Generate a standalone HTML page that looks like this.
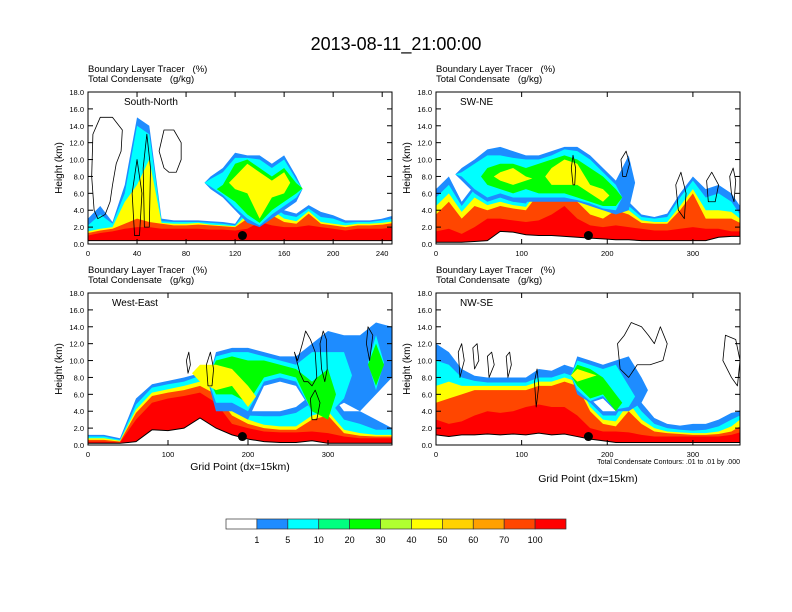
<!DOCTYPE html>
<html><head><meta charset="utf-8"><style>
body{margin:0;background:#fff;}
svg{display:block;font-family:"Liberation Sans",sans-serif;}
text{white-space:pre;}
</style></head><body>
<svg id="chart" width="792" height="612" viewBox="0 0 792 612">
<text x="396" y="50" text-anchor="middle" font-size="18">2013-08-11_21:00:00</text>
</svg>
<script>
// ---------- DATA ----------
const levelColors = ["#1e8cff","#00ffff","#00ff80","#00ff00","#b0ff30","#ffff00","#ffd200","#ffa000","#ff4600","#ff0000"];
const cbLabels = ["1","5","10","20","30","40","50","60","70","100"];
const yTicks = [0,2,4,6,8,10,12,14,16,18];
const N = null;

const p1X = [0,10,20,30,40,50,60,70,80,90,100,110,120,130,140,150,160,170,180,190,200,210,220,230,240,250];
const p1Terrain = [0.4,0.4,0.4,0.4,0.4,0.4,0.4,0.4,0.4,0.4,0.4,0.4,0.4,0.4,0.4,0.4,0.4,0.4,0.4,0.4,0.4,0.4,0.4,0.4,0.4,0.4];
const p1Red = [1.0,1.3,1.5,1.8,2.0,2.0,1.8,1.8,1.8,1.8,1.7,1.7,1.6,1.8,2.6,2.2,2.0,2.0,2.2,2.0,1.8,1.6,1.8,1.8,1.8,2.0];
const p1Orange = [1.3,1.6,1.8,2.4,3.0,2.6,2.4,2.2,2.2,2.3,2.2,2.1,2.0,3.0,5.5,3.4,2.6,2.4,3.6,2.4,2.2,2.0,2.2,2.2,2.3,2.5];
const p1Yellow = [1.5,1.8,2.0,5,7.0,10,2.5,2.4,2.4,2.5,2.3,2.2,2.1,3.5,6.5,4.0,3.0,2.7,3.9,2.6,2.4,2.2,2.4,2.4,2.5,2.7];
const p1Cyan = [2.2,3.5,2.4,6,14,13,2.7,2.6,2.6,2.6,2.5,2.4,2.2,4,7,4.5,3.5,3.2,4.2,3.2,3.0,2.5,2.6,2.6,2.8,3.0];
const p1Blue = [3.0,4.5,2.6,7,15,14,3,2.8,2.8,2.8,2.7,2.6,2.4,4.5,7.5,5,4,3.6,4.6,3.8,3.4,2.8,2.8,2.8,3.0,3.4];
const p1CloudBlueLo = [N,N,N,N,N,N,N,N,N,N,6.5,5.5,4,2.5,2,3,4,5,N,N,N,N,N,N,N,N];
const p1CloudBlueHi = [N,N,N,N,N,N,N,N,N,N,8,9,10.8,10.5,10.5,9.5,10.5,8,N,N,N,N,N,N,N,N];
const p1CloudCyanLo = [N,N,N,N,N,N,N,N,N,N,6.8,5.8,4.3,3,2.2,3.5,4.5,5.5,N,N,N,N,N,N,N,N];
const p1CloudCyanHi = [N,N,N,N,N,N,N,N,N,N,7.7,8.5,10.2,10.2,10,9,10,7.6,N,N,N,N,N,N,N,N];
const p1CloudGreenLo = [N,N,N,N,N,N,N,N,N,N,N,6,5,3.5,2.5,4,5,6,N,N,N,N,N,N,N,N];
const p1CloudGreenHi = [N,N,N,N,N,N,N,N,N,N,N,7,9.5,10,9,8,9,7.2,N,N,N,N,N,N,N,N];
const p1CloudYellowLo = [N,N,N,N,N,N,N,N,N,N,N,N,6.5,6,3,5.5,6,N,N,N,N,N,N,N,N,N];
const p1CloudYellowHi = [N,N,N,N,N,N,N,N,N,N,N,N,8,9.5,8.5,7.5,8.5,N,N,N,N,N,N,N,N,N];
const p1Contours = [
 [[5,4],[3,8],[4,13],[10,15],[20,15],[28,13.5],[27,11],[23,9.5],[20,7],[18,5],[14,3.5],[8,3]],
 [[62,9],[58,11],[62,13.5],[70,13.5],[76,12],[76,10],[72,8.5],[66,8.5]],
 [[38,1],[36,6],[40,10],[44,6],[42,1]],
 [[46,2],[45,9],[48,13],[51,9],[50,2]]
];

const p2X = [0,15,30,45,60,75,90,105,120,135,150,165,180,195,210,225,240,255,270,285,300,315,330,345,355];
const p2Terrain = [0.2,0.2,0.2,0.3,0.4,1.5,1.4,1.1,1.0,1.0,0.9,0.8,0.7,0.6,0.5,0.5,0.4,0.4,0.4,0.4,0.4,0.4,0.8,0.9,0.9];
const p2Red = [1.5,1.8,1.2,2.0,3.0,3.0,2.8,2.6,2.8,3.5,4.5,3,2.2,2.0,2.2,2.0,1.8,1.6,1.6,1.8,2.0,1.8,1.8,1.5,1.5];
const p2Orange = [3.5,5,3,4.5,4,4.5,4.2,4,6,9,9,5,3.5,3,4,3.5,2.5,2.4,2.4,4,6,3,3,3,2.5];
const p2Yellow = [4.5,6,3.8,5.5,4.6,5,4.6,4.4,6.5,9.5,9.5,6,4.5,4,5,4,2.8,2.6,2.6,4.5,6.5,4,4,3.8,3];
const p2Cyan = [5.5,7,4.5,6.5,5.2,5.5,5,4.8,7,10,10,7,5.5,5,6,4.5,3.2,3,3.2,5.5,7.5,5.5,6,5,3.5];
const p2Blue = [6.5,8,5,7,6,5.8,5.4,5.2,7.5,10.5,10.5,7.5,6,5.5,6.5,5,3.5,3.2,3.6,6,8,6.5,7,6,4.5];
const p2CloudBlueLo = [N,N,7.5,6,5,5.5,5,5,5,5,5,5,4.5,4,3.5,4,N,N,N,N,N,N,N,N,N];
const p2CloudBlueHi = [N,N,9,10,11.2,11.5,11,10.5,10.5,11,11.5,11.5,10.5,9,7.5,10.5,N,N,N,N,N,N,N,N,N];
const p2CloudCyanLo = [N,N,8,6.5,5.5,6,5.5,5.5,5.5,5.5,5.5,5.2,4.8,4.2,4,N,N,N,N,N,N,N,N,N,N];
const p2CloudCyanHi = [N,N,8.5,9.5,10.5,10.5,10.2,10,10,10.5,11.2,11,10,8.5,7,N,N,N,N,N,N,N,N,N,N];
const p2CloudGreenLo = [N,N,N,N,7,6.5,6,6.5,6,6,6,5.5,5,4.5,4.5,N,N,N,N,N,N,N,N,N,N];
const p2CloudGreenHi = [N,N,N,N,9,9.5,9.5,9,9.5,10,10.5,10,9,8,6.5,N,N,N,N,N,N,N,N,N,N];
const p2CloudYellowLo = [N,N,N,N,N,7.5,7,7.5,N,7,7,7,6,5,N,N,N,N,N,N,N,N,N,N,N];
const p2CloudYellowHi = [N,N,N,N,N,8.5,9,8,N,9,10,9.5,7,6.5,N,N,N,N,N,N,N,N,N,N,N];
const p2Contours = [
 [[160,7],[158,9],[160,10.5],[163,9],[162,7]],
 [[218,8],[216,10],[222,11],[226,9.5],[222,8]],
 [[283,4],[280,7],[286,8.5],[292,6],[290,3]],
 [[318,5],[316,7.5],[322,8.5],[330,7],[326,5]],
 [[345,6],[343,8],[347,9],[350,7.5],[348,5]]
];

const p3X = [0,20,40,60,80,100,120,140,160,180,200,220,240,260,280,300,320,340,360,380];
const p3Terrain = [0.2,0.2,0.2,0.4,1.8,1.7,2.0,3.2,2.0,1.2,0.7,0.4,0.3,0.3,0.5,0.2,0.2,0.2,0.2,0.2];
const p3Red = [0.4,0.4,0.3,3,5,5.5,5.8,6.2,5,2.5,2.0,1.6,1.5,1.5,1.6,1.4,1.0,0.8,0.8,0.8];
const p3Orange = [0.6,0.6,0.4,3.8,5.8,6.2,6.5,7,6,3.5,2.5,2.0,1.8,1.8,3.0,3.5,1.4,1.1,1.0,1.0];
const p3Yellow = [0.8,0.8,0.5,4.2,6.2,6.6,7,7.5,6.8,4.0,3,2.4,2.2,2.2,3.5,4,1.8,1.4,1.2,1.2];
const p3Cyan = [1.0,1.0,0.6,4.8,6.8,7.2,7.5,8.2,7.5,5,3.5,3.4,3.4,3.8,5,5.5,3.0,2.5,1.8,1.8];
const p3Blue = [1.2,1.2,0.8,5.5,7.2,7.6,8,8.5,8,5.5,4,4,4,4.5,6,6.5,4,4,3,2.0];
const p3CloudBlueLo = [N,N,N,N,N,N,N,N,4,4,3,7,7.5,7,4,4,5,4,6,8];
const p3CloudBlueHi = [N,N,N,N,N,N,N,N,11,11.5,11.5,11,10.5,10.5,12,13.5,13,13,14.5,14];
const p3CloudCyanLo = [N,N,N,N,N,N,N,N,5,5,4,7.5,8,7.5,4,3.5,5.5,N,6.5,N];
const p3CloudCyanHi = [N,N,N,N,N,N,N,N,10.5,11,11,10.5,10,9.5,11,11,11,N,13,N];
const p3CloudGreenLo = [N,N,N,N,N,N,N,N,6,6,5,8,8.5,8,4,3,N,N,7,N];
const p3CloudGreenHi = [N,N,N,N,N,N,N,N,10,10.5,10,10,9.5,9,7.5,9,N,N,12,N];
const p3CloudYellowLo = [N,N,N,N,N,N,N,7.5,6.5,7,4.5,N,N,N,N,N,N,N,N,N];
const p3CloudYellowHi = [N,N,N,N,N,N,N,9.5,9.5,9,7,N,N,N,N,N,N,N,N,N];
const p3Contours = [
 [[258,11],[262,10],[268,12],[272,13.5],[278,12.5],[284,11],[286,8],[280,7],[275,7.5],[270,7.5],[265,8.5]],
 [[292,9],[290,12],[294,13.5],[298,12.5],[299,9],[296,7.5]],
 [[350,14],[348,12],[352,10],[356,13]],
 [[125,8.5],[123,10],[126,11],[128,9.5]],
 [[150,7],[148,9.5],[153,11],[157,9],[155,7]],
 [[280,3],[278,5.5],[284,6.5],[290,5],[286,3]]
];

const p4X = [0,15,30,45,60,75,90,105,120,135,150,165,180,195,210,225,240,255,270,285,300,315,330,345,355];
const p4Terrain = [1.2,1.0,1.2,1.2,1.3,1.2,1.3,1.2,1.4,1.2,1.3,1.0,0.7,0.5,0.3,0.3,0.3,0.3,0.3,0.3,0.3,0.3,0.3,0.3,0.3];
const p4Red = [3,2.5,2.8,3.5,4,3.8,4,4.5,4.8,4.5,4.5,3.5,2,1.6,1.6,1.5,1.2,1,1,1,1,1,1,1.2,1.5];
const p4Orange = [5,5.5,6,6.5,6.5,6.5,6.5,6.5,7,7,7.5,7,4,2.5,2.2,4,2.5,1.6,1.4,1.3,1.2,1.2,1.3,1.6,2.2];
const p4Yellow = [7,7.5,7,7,7,7,7,7,7.5,7.5,8,7.5,4.5,3,2.8,5,3,2,1.6,1.5,1.4,1.4,1.6,2.2,3];
const p4Cyan = [10,9.5,8,7.6,7.4,7.4,7.4,7.4,8,8,8.5,8,5,3.5,3.5,6,4,2.5,2,1.8,1.7,1.8,2.2,3,3.5];
const p4Blue = [12,11,9,8.2,8,8,8,8,9,8.8,9.5,9,5.5,4,4,7,5,3.2,2.5,2.3,2.5,2.5,3,3.8,4];
const p4CloudBlueLo = [N,N,N,N,N,N,N,N,N,N,N,6,5,5.5,4,4,5,N,N,N,N,N,N,N,N];
const p4CloudBlueHi = [N,N,N,N,N,N,N,N,N,N,N,10.5,10,9.5,10,10.5,8,N,N,N,N,N,N,N,N];
const p4CloudCyanLo = [N,N,N,N,N,N,N,N,N,N,N,6.5,5.2,5.8,4.2,4.5,N,N,N,N,N,N,N,N,N];
const p4CloudCyanHi = [N,N,N,N,N,N,N,N,N,N,N,10,9.5,9,9.5,7,N,N,N,N,N,N,N,N,N];
const p4CloudGreenLo = [N,N,N,N,N,N,N,N,N,N,N,7,5.5,6,4,N,N,N,N,N,N,N,N,N,N];
const p4CloudGreenHi = [N,N,N,N,N,N,N,N,N,N,N,9.5,9,8,6,N,N,N,N,N,N,N,N,N,N];
const p4CloudYellowLo = [N,N,N,N,N,N,N,N,N,N,N,7.5,8,N,N,N,N,N,N,N,N,N,N,N,N];
const p4CloudYellowHi = [N,N,N,N,N,N,N,N,N,N,N,9,8.5,N,N,N,N,N,N,N,N,N,N,N,N];
const p4Contours = [
 [[215,9],[212,12],[220,13],[228,14.5],[240,14],[248,13],[255,12],[262,14],[270,12],[265,10],[250,9.5],[235,9.5],[225,8]],
 [[338,13],[335,10],[345,8],[352,7],[355,10],[350,12.5]],
 [[28,8],[26,11],[30,12],[33,10]],
 [[45,9],[43,11.5],[48,12],[50,10]],
 [[62,8],[60,10.5],[65,11],[68,9.5]],
 [[84,8],[82,10.5],[86,11],[88,9.5]],
 [[117,4.5],[115,7.5],[118,9],[120,7]]
];

const panels = [
 {name:"south-north",title:"South-North",x0:88,y0:92,xmax:248,xticks:[0,40,80,120,160,200,240],X:p1X,T:p1Terrain,
  ground:[[p1Blue,0],[p1Cyan,1],[p1Yellow,5],[p1Orange,8],[p1Red,9]],
  clouds:[[p1CloudBlueLo,p1CloudBlueHi,0],[p1CloudCyanLo,p1CloudCyanHi,1],[p1CloudGreenLo,p1CloudGreenHi,3],[p1CloudYellowLo,p1CloudYellowHi,5]],
  contours:p1Contours,dot:[126,1.0],xlabel:false},
 {name:"sw-ne",title:"SW-NE",x0:436,y0:92,xmax:355,xticks:[0,100,200,300],X:p2X,T:p2Terrain,
  ground:[[p2Blue,0],[p2Cyan,1],[p2Yellow,5],[p2Orange,8],[p2Red,9]],
  clouds:[[p2CloudBlueLo,p2CloudBlueHi,0],[p2CloudCyanLo,p2CloudCyanHi,1],[p2CloudGreenLo,p2CloudGreenHi,3],[p2CloudYellowLo,p2CloudYellowHi,5]],
  contours:p2Contours,dot:[178,1.0],xlabel:false},
 {name:"west-east",title:"West-East",x0:88,y0:293,xmax:380,xticks:[0,100,200,300],X:p3X,T:p3Terrain,
  ground:[[p3Blue,0],[p3Cyan,1],[p3Yellow,5],[p3Orange,8],[p3Red,9]],
  clouds:[[p3CloudBlueLo,p3CloudBlueHi,0],[p3CloudCyanLo,p3CloudCyanHi,1],[p3CloudGreenLo,p3CloudGreenHi,3],[p3CloudYellowLo,p3CloudYellowHi,5]],
  contours:p3Contours,dot:[193,1.0],xlabel:466},
 {name:"nw-se",title:"NW-SE",x0:436,y0:293,xmax:355,xticks:[0,100,200,300],X:p4X,T:p4Terrain,
  ground:[[p4Blue,0],[p4Cyan,1],[p4Yellow,5],[p4Orange,8],[p4Red,9]],
  clouds:[[p4CloudBlueLo,p4CloudBlueHi,0],[p4CloudCyanLo,p4CloudCyanHi,1],[p4CloudGreenLo,p4CloudGreenHi,3],[p4CloudYellowLo,p4CloudYellowHi,5]],
  contours:p4Contours,dot:[178,1.0],xlabel:478}
];
// ---------- RENDER ----------
const NS="http://www.w3.org/2000/svg";
const svg=document.getElementById('chart');
function mk(tag,attrs,parent){const e=document.createElementNS(NS,tag);for(const k in attrs)e.setAttribute(k,attrs[k]);(parent||svg).appendChild(e);return e;}
const W=304,H=152;
panels.forEach(p=>{
  const sx=v=>p.x0+v/p.xmax*W;
  const sy=v=>p.y0+H-v/18*H;
  const step=p.X[1]-p.X[0];
  const g=mk('g',{});
  
  
  const cid='clip-'+p.name;
  const cp=mk('clipPath',{id:cid},g);mk('rect',{x:p.x0,y:p.y0,width:W,height:H},cp);
  const plot=mk('g',{'clip-path':'url(#'+cid+')'},g);
  p.ground.forEach(([top,ci])=>{
    let d='M'+sx(p.X[0])+','+sy(p.T[0]);
    p.X.forEach((x,i)=>{d+=' L'+sx(x)+','+sy(top[i]);});
    for(let i=p.X.length-1;i>=0;i--)d+=' L'+sx(p.X[i])+','+sy(p.T[i]);
    const e=mk('path',{d:d+'Z',fill:levelColors[ci]},plot);
    
    
  });
  p.clouds.forEach(([lo,hi,ci])=>{
    let seg=[];
    const flush=()=>{
      if(seg.length>=1){
        const f=seg[0],l=seg[seg.length-1];
        const m0=(lo[f]+hi[f])/2,m1=(lo[l]+hi[l])/2;
        let d='M'+sx(p.X[f]-step*0.5)+','+sy(m0);
        seg.forEach(i=>{d+=' L'+sx(p.X[i])+','+sy(hi[i]);});
        d+=' L'+sx(p.X[l]+step*0.5)+','+sy(m1);
        for(let k=seg.length-1;k>=0;k--)d+=' L'+sx(p.X[seg[k]])+','+sy(lo[seg[k]]);
        const e=mk('path',{d:d+'Z',fill:levelColors[ci]},plot);
        
        
      }
      seg=[];};
    p.X.forEach((x,i)=>{if(lo[i]==null)flush();else seg.push(i);});flush();
  });
  let td='M'+sx(p.X[0])+','+sy(0);p.X.forEach((x,i)=>td+=' L'+sx(x)+','+sy(p.T[i]));td+=' L'+sx(p.X[p.X.length-1])+','+sy(0)+'Z';
  const tw=mk('path',{d:td,fill:'#fff'},plot);
  
  
  let tl='';p.X.forEach((x,i)=>tl+=(i?' L':'M')+sx(x)+','+sy(p.T[i]));
  mk('path',{d:tl,fill:'none',stroke:'#000','stroke-width':1},plot);
  p.contours.forEach(c=>{
    let d='';c.forEach((pt,i)=>d+=(i?' L':'M')+sx(pt[0])+','+sy(pt[1]));
    const e=mk('path',{d:d+'Z',fill:'none',stroke:'#000','stroke-width':0.8,'stroke-linejoin':'round'},plot);
    
    
  });
  const dot=mk('circle',{cx:sx(p.dot[0]),cy:sy(p.dot[1]),r:4.5,fill:'#000'},plot);
  
  
  mk('rect',{x:p.x0,y:p.y0,width:W,height:H,fill:'none',stroke:'#000','stroke-width':1},g);
  yTicks.forEach(t=>{
    const y=sy(t);
    mk('line',{x1:p.x0,x2:p.x0+5,y1:y,y2:y,stroke:'#000'},g);
    mk('line',{x1:p.x0+W-5,x2:p.x0+W,y1:y,y2:y,stroke:'#000'},g);
    const tx=mk('text',{x:p.x0-4,y:y+3,'font-size':7.5,'text-anchor':'end'},g);tx.textContent=t.toFixed(1);
    
    
  });
  p.xticks.forEach(t=>{
    const x=sx(t);
    mk('line',{x1:x,x2:x,y1:p.y0+H,y2:p.y0+H-5,stroke:'#000'},g);
    mk('line',{x1:x,x2:x,y1:p.y0,y2:p.y0+5,stroke:'#000'},g);
    const tx=mk('text',{x:x,y:p.y0+H+12,'font-size':7.5,'text-anchor':'middle'},g);tx.textContent=t;
    
    
  });
  const yl=mk('text',{x:0,y:0,'font-size':10,'text-anchor':'middle',transform:'translate('+(p.x0-26)+','+(p.y0+H/2)+') rotate(-90)'},g);
  yl.textContent='Height (km)';
  
  
  const t1=mk('text',{x:p.x0,y:p.y0-20,'font-size':9.5},g);t1.textContent='Boundary Layer Tracer   (%)';
  
  
  const t2=mk('text',{x:p.x0,y:p.y0-10,'font-size':9.5},g);t2.textContent='Total Condensate   (g/kg)';
  
  
  const pt=mk('text',{x:p.x0+(p.name=='south-north'?36:24),y:p.y0+13,'font-size':10},g);pt.textContent=p.title;
  
  
  if(p.xlabel){const xl=mk('text',{x:p.x0+W/2,y:p.xlabel+4,'font-size':10.5,'text-anchor':'middle'},g);xl.textContent='Grid Point (dx=15km)';
    
    }
});
const note=mk('text',{x:740,y:464,'font-size':7,'text-anchor':'end'});note.textContent='Total Condensate Contours: .01 to .01 by .000';


const cbx=226,cbw=340,cby=519,cbh=10,n=levelColors.length+1,bw=cbw/n;
const cb=mk('g',{});


["#ffffff"].concat(levelColors).forEach((c,i)=>{
  const r=mk('rect',{x:cbx+i*bw,y:cby,width:bw,height:cbh,fill:c,stroke:'#333','stroke-width':0.7},cb);
  
  
});
cbLabels.forEach((l,i)=>{
  const t=mk('text',{x:cbx+(i+1)*bw,y:cby+cbh+14,'font-size':9,'text-anchor':'middle'},cb);t.textContent=l;
  
  
});
</script>
</body></html>
